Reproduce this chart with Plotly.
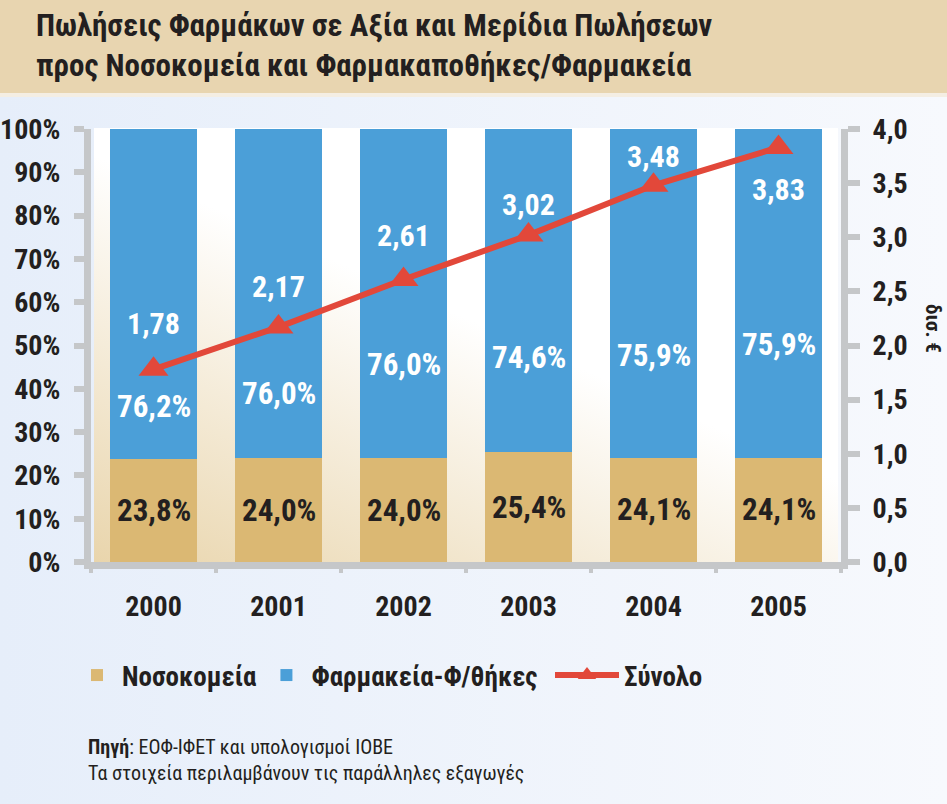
import base64
import plotly.graph_objects as go

# ---------------- data ----------------
years = ["2000", "2001", "2002", "2003", "2004", "2005"]
hospitals_pct = [23.8, 24.0, 24.0, 25.4, 24.1, 24.1]        # Νοσοκομεία
pharmacies_pct = [76.2, 76.0, 76.0, 74.6, 75.9, 75.9]       # Φαρμακεία-Φ/θήκες
total_bn = [1.78, 2.17, 2.61, 3.02, 3.48, 3.83]             # Σύνολο (δισ. €)

# ---------------- style ----------------
W, H = 947, 804
L, R, T, B = 91, 106, 129, 242
PW, PH = W - L - R, H - T - B

FONT = "Liberation Sans Narrow, Arial Narrow, Roboto Condensed, DejaVu Sans Condensed, Liberation Sans, sans-serif"
DARK = "#231F20"
GRAY = "#C5C7C9"
BEIGE = "#DBB873"
BLUE = "#4B9FD8"
RED = "#E2483A"

# label placement (style, in pixels / percent)
pharm_label_pct = [36.0, 39.0, 45.5, 47.3, 47.8, 50.3]
total_label_shift = [46, 41, 44, 31, 29, -42]


def fx(px):
    return (px - L) / PW


def fy(py):
    return (H - B - py) / PH


def fmt(v, d=1):
    return f"{v:.{d}f}".replace(".", ",")


def svg_uri(svg):
    return "data:image/svg+xml;base64," + base64.b64encode(svg.encode()).decode()


plot_bg = svg_uri(
    f'<svg xmlns="http://www.w3.org/2000/svg" width="{PW}" height="{PH}" viewBox="0 0 {PW} {PH}" preserveAspectRatio="none">'
    '<defs><linearGradient id="g" x1="0" y1="1" x2="0.75" y2="0">'
    '<stop offset="0" stop-color="#E9D5AC"/><stop offset="0.6" stop-color="#FFFFFF"/>'
    '</linearGradient></defs>'
    f'<rect width="{PW}" height="{PH}" fill="url(#g)"/></svg>'
)
paper_bg = svg_uri(
    f'<svg xmlns="http://www.w3.org/2000/svg" width="{W}" height="{H}" viewBox="0 0 {W} {H}" preserveAspectRatio="none">'
    '<defs><linearGradient id="p" x1="0" y1="0" x2="1" y2="0">'
    '<stop offset="0" stop-color="#E6EEFA"/><stop offset="1" stop-color="#F7F9FD"/>'
    '</linearGradient></defs>'
    f'<rect width="{W}" height="{H}" fill="url(#p)"/></svg>'
)

fig = go.Figure()

fig.add_trace(go.Bar(
    x=years, y=hospitals_pct, name="Νοσοκομεία", legend="legend",
    marker=dict(color=BEIGE, line=dict(width=0)), hoverinfo="skip",
))
fig.add_trace(go.Bar(
    x=years, y=pharmacies_pct, name="Φαρμακεία-Φ/θήκες", legend="legend",
    marker=dict(color=BLUE, line=dict(width=0)), hoverinfo="skip",
))
fig.add_trace(go.Scatter(
    x=years, y=total_bn, name="Σύνολο", yaxis="y2", mode="lines+markers", legend="legend2",
    line=dict(color=RED, width=6),
    marker=dict(symbol="triangle-up", size=26, color=RED, line=dict(width=0)),
    hoverinfo="skip",
))

annotations = []
for i, yr in enumerate(years):
    annotations.append(dict(
        x=i, y=hospitals_pct[i] / 2, xref="x", yref="y",
        text=fmt(hospitals_pct[i]) + "%", showarrow=False,
        font=dict(family=FONT, size=31, color=DARK, weight="bold"),
    ))
    annotations.append(dict(
        x=i, y=pharm_label_pct[i], xref="x", yref="y",
        text=fmt(pharmacies_pct[i]) + "%", showarrow=False,
        font=dict(family=FONT, size=31, color="white", weight="bold"),
    ))
    annotations.append(dict(
        x=i, y=total_bn[i], xref="x", yref="y2", yshift=total_label_shift[i],
        text=fmt(total_bn[i], 2), showarrow=False,
        font=dict(family=FONT, size=30, color="white", weight="bold"),
    ))

# title
annotations.append(dict(
    x=fx(34), y=fy(25), xref="paper", yref="paper", xanchor="left", yanchor="middle",
    text="Πωλήσεις Φαρμάκων σε Αξία και Μερίδια Πωλήσεων", showarrow=False,
    font=dict(family=FONT, size=31, color=DARK, weight="bold"),
))
annotations.append(dict(
    x=fx(34), y=fy(65), xref="paper", yref="paper", xanchor="left", yanchor="middle",
    text="προς Νοσοκομεία και Φαρμακαποθήκες/Φαρμακεία", showarrow=False,
    font=dict(family=FONT, size=31, color=DARK, weight="bold"),
))
# right axis unit
annotations.append(dict(
    x=fx(933), y=fy(328), xref="paper", yref="paper", xanchor="center", yanchor="middle",
    text="δισ. €", textangle=90, showarrow=False,
    font=dict(family=FONT, size=21, color=DARK, weight="bold"),
))
# footnotes
annotations.append(dict(
    x=fx(86), y=fy(747), xref="paper", yref="paper", xanchor="left", yanchor="middle",
    text="<b>Πηγή</b>: ΕΟΦ-ΙΦΕΤ και υπολογισμοί ΙΟΒΕ", showarrow=False,
    font=dict(family=FONT, size=20, color=DARK),
))
annotations.append(dict(
    x=fx(86), y=fy(773), xref="paper", yref="paper", xanchor="left", yanchor="middle",
    text="Τα στοιχεία περιλαμβάνουν τις παράλληλες εξαγωγές", showarrow=False,
    font=dict(family=FONT, size=20, color=DARK),
))

shapes = [
    dict(type="rect", xref="paper", yref="paper", x0=fx(0), x1=fx(W), y0=fy(93), y1=fy(0),
         fillcolor="#E8D5B0", line=dict(width=0), layer="below"),
    dict(type="rect", xref="paper", yref="paper", x0=fx(0), x1=fx(W), y0=fy(97), y1=fy(93),
         fillcolor="#F4EEE3", line=dict(width=0), layer="below"),
]

tickfont = dict(family=FONT, size=28, color=DARK, weight="bold")
legendfont = dict(family=FONT, size=27, color=DARK, weight="bold")

fig.update_layout(
    width=W, height=H,
    margin=dict(l=L, r=R, t=T, b=B, pad=0),
    barmode="stack", bargap=0.31,
    separators=",.",
    paper_bgcolor="#EBF2FB",
    plot_bgcolor="rgba(0,0,0,0)",
    showlegend=True,
    legend=dict(
        orientation="h", x=fx(72), y=fy(651), xanchor="left", yanchor="top",
        font=legendfont, bgcolor="rgba(0,0,0,0)", traceorder="normal", itemwidth=40,
    ),
    legend2=dict(
        orientation="h", x=fx(550), y=fy(651), xanchor="left", yanchor="top",
        font=legendfont, bgcolor="rgba(0,0,0,0)", itemwidth=64,
    ),
    xaxis=dict(
        type="category", range=[-0.5, 5.5], showgrid=False, zeroline=False,
        showline=True, linecolor=GRAY, linewidth=7, automargin=False,
        ticks="outside", tickson="boundaries", ticklen=4, tickwidth=4, tickcolor=GRAY,
        tickfont=tickfont, ticklabelstandoff=13,
    ),
    yaxis=dict(
        range=[0, 100], dtick=10, ticksuffix="%", showgrid=False, zeroline=False,
        showline=True, linecolor=GRAY, linewidth=7, automargin=False,
        ticks="outside", ticklen=10, tickwidth=6, tickcolor=GRAY,
        tickfont=tickfont, ticklabelstandoff=8,
    ),
    yaxis2=dict(
        range=[0, 4], dtick=0.5, tickformat=".1f", overlaying="y", side="right",
        showgrid=False, zeroline=False, automargin=False,
        showline=True, linecolor=GRAY, linewidth=7,
        ticks="outside", ticklen=12, tickwidth=6, tickcolor=GRAY,
        tickfont=tickfont, ticklabelstandoff=7,
    ),
    images=[
        dict(source=paper_bg, xref="paper", yref="paper", x=fx(0), y=fy(0),
             sizex=W / PW, sizey=H / PH, sizing="stretch", layer="below",
             xanchor="left", yanchor="top"),
        dict(source=plot_bg, xref="paper", yref="paper", x=fx(94), y=fy(128),
             sizex=(838 - 94) / PW, sizey=(562 - 128) / PH, sizing="stretch", layer="below",
             xanchor="left", yanchor="top"),
    ],
    annotations=annotations,
    shapes=shapes,
)

fig.write_html(
    "out.html",
    config={"displayModeBar": False},
    post_script="document.body.style.margin='0px';",
)
